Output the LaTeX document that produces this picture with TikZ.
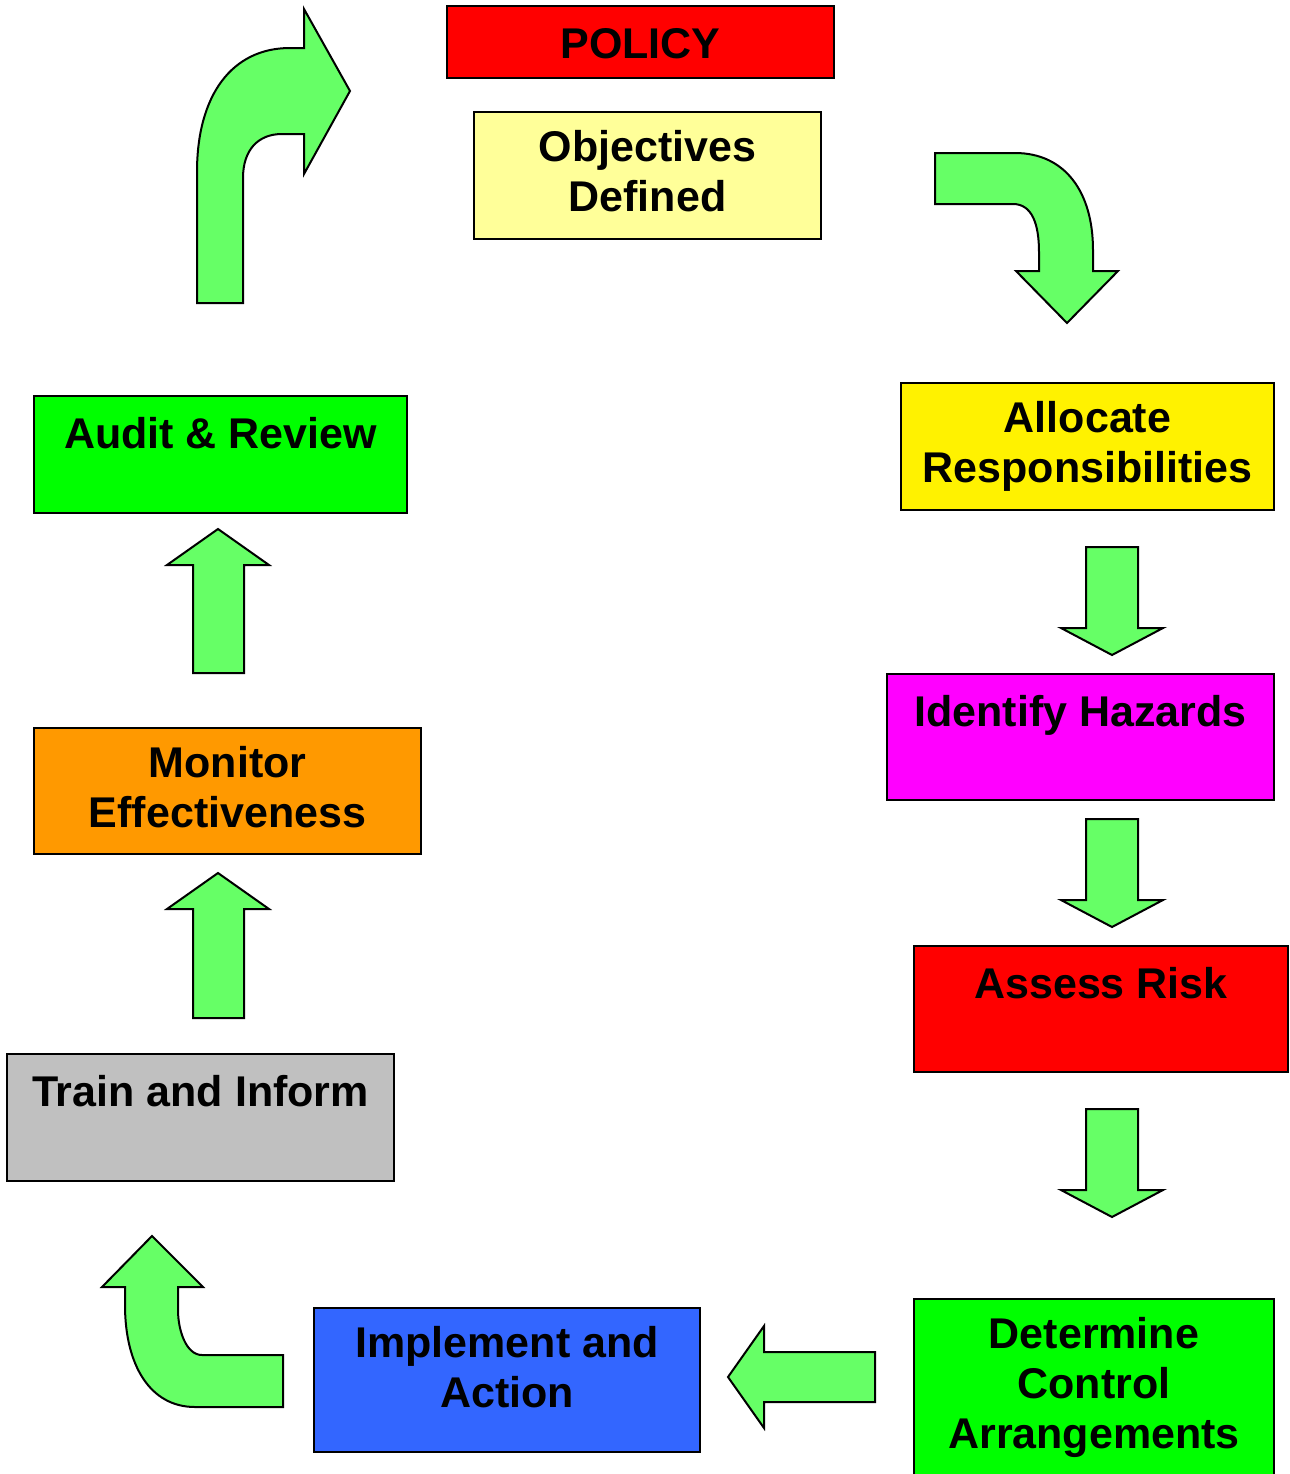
\documentclass[tikz,border=0pt]{standalone}
\usepackage{fontspec}
\setmainfont{Liberation Sans}
\definecolor{arrowgreen}{HTML}{66FF66}
\definecolor{lightyel}{HTML}{FFFF99}
\definecolor{implblue}{HTML}{3366FF}
\definecolor{traingray}{HTML}{C0C0C0}
\definecolor{monorange}{HTML}{FF9900}
\definecolor{brightgreen}{HTML}{00FF00}
\definecolor{magentac}{HTML}{FF00FF}
\begin{document}
\begin{tikzpicture}[x=0.5pt,y=-0.5pt,
  box/.style={draw=black, line width=1pt, anchor=north west, inner sep=0pt, outer sep=0pt},
  lbl/.style={anchor=north, inner sep=0pt, align=center, font=\fontsize{21.5}{25}\selectfont\bfseries, execute at begin node=\strut},
  blockarrow/.style={draw=black, fill=arrowgreen, line width=1pt, line join=miter}]
\path[use as bounding box, clip] (0,0) rectangle (1290,1474);
\fill[white] (0,0) rectangle (1290,1474);

% boxes
\node[box, fill=red, minimum width=193.5pt, minimum height=36pt] (pol) at (447,6) {};
\node[box, fill=lightyel, minimum width=173.5pt, minimum height=63.5pt] (obj) at (474,112) {};
\node[box, fill=yellow, minimum width=186.5pt, minimum height=63.5pt] (alloc) at (901,383) {};
\node[box, fill=magentac, minimum width=193.5pt, minimum height=63pt] (ident) at (887,674) {};
\node[box, fill=red, minimum width=187pt, minimum height=63pt] (assess) at (914,946) {};
\node[box, fill=brightgreen, minimum width=180pt, minimum height=100pt] (determ) at (914,1299) {};
\node[box, fill=implblue, minimum width=193pt, minimum height=72pt] (impl) at (314,1308) {};
\node[box, fill=traingray, minimum width=193.5pt, minimum height=63.5pt] (train) at (7,1054) {};
\node[box, fill=monorange, minimum width=193.5pt, minimum height=63pt] (monitor) at (34,728) {};
\node[box, fill=brightgreen, minimum width=186.5pt, minimum height=58.5pt] (audit) at (34,396) {};

% labels
\node[lbl] (polT) at ([yshift=-8.75pt]pol.north) {POLICY};
\node[lbl] (objT) at ([yshift=-8.75pt]obj.north) {Objectives\\Defined};
\node[lbl] (allocT) at ([yshift=-8.75pt]alloc.north) {Allocate\\Responsibilities};
\node[lbl] (identT) at ([yshift=-8.75pt]ident.north) {Identify Hazards};
\node[lbl] (assessT) at ([yshift=-8.75pt]assess.north) {Assess Risk};
\node[lbl] (determT) at ([yshift=-8.75pt]determ.north) {Determine\\Control\\Arrangements};
\node[lbl] (implT) at ([yshift=-8.75pt]impl.north) {Implement and\\Action};
\node[lbl] (trainT) at ([yshift=-8.75pt]train.north) {Train and Inform};
\node[lbl] (monitorT) at ([yshift=-8.75pt]monitor.north) {Monitor\\Effectiveness};
\node[lbl] (auditT) at ([yshift=-8.75pt]audit.north) {Audit \& Review};

% curved arrow top-left (up then right)
\draw[blockarrow] (197,303) -- (197,172) .. controls (197,95) and (232,48) .. (290,48)
  -- (304,48) -- (304,9) -- (350,91) -- (304,174) -- (304,134) -- (282,134)
  .. controls (258,134) and (243,150) .. (243,178) -- (243,303) -- cycle;

% curved arrow top-right (right then down)
\draw[blockarrow] (935,153) -- (1015,153) .. controls (1065,153) and (1093,192) .. (1093,250)
  -- (1093,271) -- (1118,271) -- (1067,323) -- (1016,271) -- (1039,271) -- (1039,252)
  .. controls (1039,224) and (1032,204) .. (1013,204) -- (935,204) -- cycle;

% straight down arrows
\foreach \t/\b/\p in {547/628/655, 819/900/927, 1109/1190/1217}{
  \draw[blockarrow] (1086,\t) -- (1138,\t) -- (1138,\b) -- (1163,\b) -- (1112,\p)
    -- (1061,\b) -- (1086,\b) -- cycle;
}

% left arrow
\draw[blockarrow] (875,1352) -- (764,1352) -- (764,1326) -- (728,1377) -- (764,1428)
  -- (764,1402) -- (875,1402) -- cycle;

% curved arrow bottom-left (left then up)
\draw[blockarrow] (283,1355) -- (202,1355) .. controls (186,1355) and (178,1330) .. (178,1310)
  -- (178,1287) -- (203,1287) -- (152,1236) -- (102,1287) -- (125,1287) -- (125,1305)
  .. controls (125,1365) and (150,1407) .. (195,1407) -- (283,1407) -- cycle;

% straight up arrows
\foreach \bt/\bs/\tp in {673/565/529, 1018/909/873}{
  \draw[blockarrow] (193,\bt) -- (193,\bs) -- (167,\bs) -- (218,\tp) -- (269,\bs)
    -- (244,\bs) -- (244,\bt) -- cycle;
}
\end{tikzpicture}
\end{document}
